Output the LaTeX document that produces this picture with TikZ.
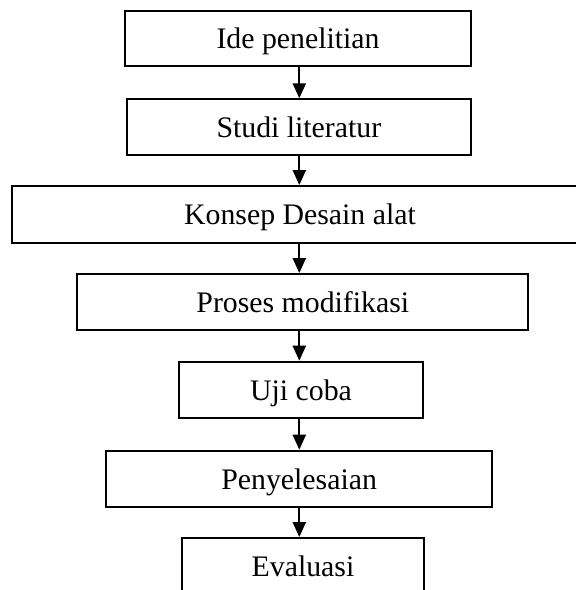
\documentclass[tikz,border=0pt]{standalone}
\usepackage{fontspec}
\setmainfont{Liberation Serif}
\usetikzlibrary{arrows.meta}
\begin{document}
\begin{tikzpicture}[x=1pt,y=-1pt,
  box/.style={draw=black, line width=2pt, rectangle, inner sep=0pt,
    font=\fontsize{29.8pt}{34pt}\selectfont, text height=26.6pt, text depth=6.5pt},
  arr/.style={line width=2.2pt, -{Triangle[length=15pt,width=13pt]}}]
\useasboundingbox (0,0) rectangle (576,590);
\clip (0,0) rectangle (576,590);
\fill[white] (0,0) rectangle (576,590);
\node[box, minimum width=346pt, minimum height=55pt] (n1) at (298,38.2) {Ide penelitian};
\node[box, minimum width=344.3pt, minimum height=55.7pt] (n2) at (298.85,127.15) {Studi literatur};
\node[box, minimum width=576pt, minimum height=56.7pt] (n3) at (300,214.35) {Konsep Desain alat};
\node[box, minimum width=451pt, minimum height=56pt] (n4) at (302.8,302) {Proses modifikasi};
\node[box, minimum width=243.4pt, minimum height=56.6pt] (n5) at (301,390) {Uji coba};
\node[box, minimum width=386.3pt, minimum height=56.6pt] (n6) at (299.15,479) {Penyelesaian};
\node[box, minimum width=242.6pt, minimum height=57pt] (n7) at (303,566.5) {Evaluasi};
\coordinate (ax) at (299.3,0);
\draw[arr] (n1.south -| ax) -- (n2.north -| ax);
\draw[arr] (n2.south -| ax) -- (n3.north -| ax);
\draw[arr] (n3.south -| ax) -- (n4.north -| ax);
\draw[arr] (n4.south -| ax) -- (n5.north -| ax);
\draw[arr] (n5.south -| ax) -- (n6.north -| ax);
\draw[arr] (n6.south -| ax) -- (n7.north -| ax);
\end{tikzpicture}
\end{document}
